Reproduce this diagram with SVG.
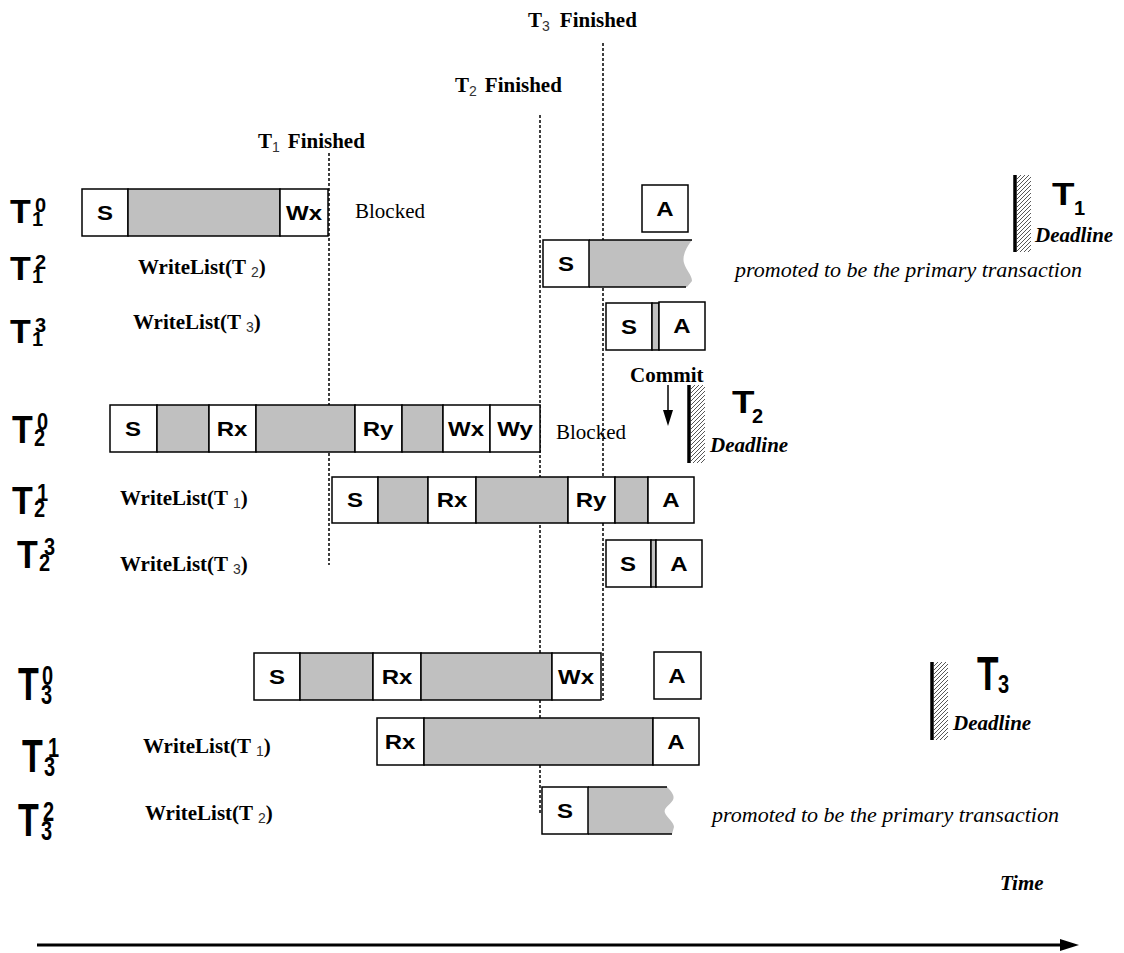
<svg xmlns="http://www.w3.org/2000/svg" width="1124" height="953" viewBox="0 0 1124 953">
<defs>
<style>
.w{fill:#fff;stroke:#000;stroke-width:1.5}
.g{fill:#c0c0c0;stroke:#000;stroke-width:1.5}
.gf{fill:#c0c0c0;stroke:none}
.ln{fill:none;stroke:#000;stroke-width:1.5}
.bx{font-family:"Liberation Sans",Arial,sans-serif;font-weight:bold;font-size:20px;text-anchor:middle}
.rl{font-family:"Liberation Sans",Arial,sans-serif;font-weight:bold}
.tm{font-family:"Liberation Serif","Times New Roman",serif;font-size:21px}
.tb{font-family:"Liberation Serif","Times New Roman",serif;font-size:21px;font-weight:bold}
.ti{font-family:"Liberation Serif","Times New Roman",serif;font-size:22px;font-style:italic}
.tbi{font-family:"Liberation Serif","Times New Roman",serif;font-size:21px;font-style:italic;font-weight:bold}
.sub{font-family:"Liberation Sans",Arial,sans-serif;font-size:14px;font-weight:normal;font-style:normal;fill:#333}
.dot{stroke:#000;stroke-width:1.5;stroke-dasharray:3,2;fill:none}
.dl{stroke:#000;stroke-width:3.5}
.ht{fill:url(#hatch)}
</style>
<pattern id="hatch" width="4" height="4" patternUnits="userSpaceOnUse"><path d="M-1,1 L1,-1 M0,4 L4,0 M3,5 L5,3" stroke="#444" stroke-width="0.9"/></pattern>
</defs>
<rect width="1124" height="953" fill="#fff"/>

<g id="connectors">
<line class="dot" x1="329" y1="153" x2="329" y2="565"/>
<line class="dot" x1="540" y1="115" x2="540" y2="815"/>
<line class="dot" x1="603" y1="43" x2="603" y2="700"/>
<line x1="668" y1="385" x2="668" y2="412" stroke="#000" stroke-width="1.5"/>
<path d="M663,410 L673,410 L668,426 Z" fill="#000"/>
<line x1="37" y1="945" x2="1064" y2="945" stroke="#000" stroke-width="3"/>
<path d="M1060,939 L1079,945 L1060,951 Z" fill="#000"/>
</g>

<g id="top-labels">
<text class="tb" x="528" y="27">T<tspan class="sub" dy="4">3</tspan><tspan dx="10" dy="-4">Finished</tspan></text>
<text class="tb" x="455" y="92">T<tspan class="sub" dy="4">2</tspan><tspan dx="8" dy="-4">Finished</tspan></text>
<text class="tb" x="258" y="148">T<tspan class="sub" dy="4">1</tspan><tspan dx="8" dy="-4">Finished</tspan></text>
</g>

<g id="row-labels">
<g transform="translate(10,223)"><text class="rl" font-size="34">T</text><text class="rl" font-size="20" x="25" y="-11">0</text><text class="rl" font-size="20" x="22" y="3">1</text></g>
<g transform="translate(10,280)"><text class="rl" font-size="34">T</text><text class="rl" font-size="20" x="25" y="-11">2</text><text class="rl" font-size="20" x="22" y="3">1</text></g>
<g transform="translate(10,343)"><text class="rl" font-size="34">T</text><text class="rl" font-size="20" x="25" y="-11">3</text><text class="rl" font-size="20" x="22" y="3">1</text></g>
<g transform="translate(12,443) scale(1,1.15)"><text class="rl" font-size="34">T</text><text class="rl" font-size="20" x="25" y="-11">0</text><text class="rl" font-size="20" x="22" y="3">2</text></g>
<g transform="translate(12,514) scale(1,1.15)"><text class="rl" font-size="34">T</text><text class="rl" font-size="20" x="25" y="-11">1</text><text class="rl" font-size="20" x="22" y="3">2</text></g>
<g transform="translate(17,568) scale(1,1.15)"><text class="rl" font-size="34">T</text><text class="rl" font-size="20" x="27" y="-11">3</text><text class="rl" font-size="20" x="22" y="3">2</text></g>
<g transform="translate(18,700) scale(1,1.35)"><text class="rl" font-size="34">T</text><text class="rl" font-size="20" x="24" y="-11">0</text><text class="rl" font-size="20" x="23" y="3">3</text></g>
<g transform="translate(22,772) scale(1,1.35)"><text class="rl" font-size="34">T</text><text class="rl" font-size="20" x="26" y="-11">1</text><text class="rl" font-size="20" x="22" y="3">3</text></g>
<g transform="translate(18,836) scale(1,1.35)"><text class="rl" font-size="34">T</text><text class="rl" font-size="20" x="25" y="-11">2</text><text class="rl" font-size="20" x="23" y="3">3</text></g>
</g>

<g id="writelists">
<text class="tb" x="138" y="274">WriteList(T <tspan class="sub" dy="3">2</tspan><tspan dy="-3">)</tspan></text>
<text class="tb" x="133" y="329">WriteList(T <tspan class="sub" dy="3">3</tspan><tspan dy="-3">)</tspan></text>
<text class="tb" x="120" y="505">WriteList(T <tspan class="sub" dy="3">1</tspan><tspan dy="-3">)</tspan></text>
<text class="tb" x="120" y="571">WriteList(T <tspan class="sub" dy="3">3</tspan><tspan dy="-3">)</tspan></text>
<text class="tb" x="143" y="753">WriteList(T <tspan class="sub" dy="3">1</tspan><tspan dy="-3">)</tspan></text>
<text class="tb" x="145" y="820">WriteList(T <tspan class="sub" dy="3">2</tspan><tspan dy="-3">)</tspan></text>
</g>

<g id="T1-0">
<rect class="w" x="82" y="189" width="46" height="47"/>
<rect class="g" x="128" y="189" width="152" height="47"/>
<rect class="w" x="280" y="189" width="48" height="47"/>
<text class="bx" transform="translate(105,220) scale(1.2,1)">S</text>
<text class="bx" transform="translate(304,220) scale(1.2,1)">Wx</text>
<text class="tm" x="355" y="218">Blocked</text>
</g>
<g id="T1-A">
<rect class="w" x="642" y="185" width="46" height="47"/>
<text class="bx" transform="translate(665,216) scale(1.2,1)">A</text>
</g>
<g id="T1-2">
<path class="gf" d="M589,240 H692 C686,248 682,256 684,263 C686,270 692,275 692,281 L687,287 H589 Z"/>
<path class="ln" d="M589,240 H692 M589,287 H686"/>
<rect class="w" x="543" y="240" width="46" height="47"/>
<text class="bx" transform="translate(566,271) scale(1.2,1)">S</text>
<text class="ti" x="735" y="277">promoted to be the primary transaction</text>
</g>
<g id="T1-3">
<rect class="w" x="606" y="303" width="46" height="47"/>
<rect class="g" x="652" y="303" width="7" height="47"/>
<rect class="w" x="659" y="302" width="46" height="48" stroke-width="2"/>
<text class="bx" transform="translate(629,334) scale(1.2,1)">S</text>
<text class="bx" transform="translate(682,333) scale(1.2,1)">A</text>
</g>

<g id="commit">
<text class="tb" x="630" y="382">Commit</text>
</g>

<g id="T2-0">
<rect class="w" x="110" y="405" width="47" height="47"/>
<rect class="g" x="157" y="405" width="52" height="47"/>
<rect class="w" x="209" y="405" width="47" height="47"/>
<rect class="g" x="256" y="405" width="99" height="47"/>
<rect class="w" x="355" y="405" width="47" height="47"/>
<rect class="g" x="402" y="405" width="41" height="47"/>
<rect class="w" x="443" y="405" width="47" height="47"/>
<rect class="w" x="490" y="405" width="50" height="47"/>
<text class="bx" transform="translate(133,436) scale(1.2,1)">S</text>
<text class="bx" transform="translate(232,436) scale(1.2,1)">Rx</text>
<text class="bx" transform="translate(378,436) scale(1.2,1)">Ry</text>
<text class="bx" transform="translate(466,436) scale(1.2,1)">Wx</text>
<text class="bx" transform="translate(515,436) scale(1.2,1)">Wy</text>
<text class="tm" x="556" y="439">Blocked</text>
</g>
<g id="T2-1">
<rect class="w" x="332" y="477" width="46" height="46"/>
<rect class="g" x="378" y="477" width="50" height="46"/>
<rect class="w" x="428" y="477" width="48" height="46"/>
<rect class="g" x="476" y="477" width="92" height="46"/>
<rect class="w" x="568" y="477" width="47" height="46"/>
<rect class="g" x="615" y="477" width="33" height="46"/>
<rect class="w" x="648" y="477" width="46" height="46"/>
<text class="bx" transform="translate(355,507) scale(1.2,1)">S</text>
<text class="bx" transform="translate(452,507) scale(1.2,1)">Rx</text>
<text class="bx" transform="translate(591,507) scale(1.2,1)">Ry</text>
<text class="bx" transform="translate(671,507) scale(1.2,1)">A</text>
</g>
<g id="T2-3">
<rect class="w" x="606" y="540" width="45" height="47"/>
<rect class="g" x="651" y="540" width="5" height="47"/>
<rect class="w" x="656" y="540" width="46" height="47"/>
<text class="bx" transform="translate(628,571) scale(1.2,1)">S</text>
<text class="bx" transform="translate(679,571) scale(1.2,1)">A</text>
</g>

<g id="T3-0">
<rect class="w" x="254" y="653" width="46" height="47"/>
<rect class="g" x="300" y="653" width="73" height="47"/>
<rect class="w" x="373" y="653" width="48" height="47"/>
<rect class="g" x="421" y="653" width="131" height="47"/>
<rect class="w" x="552" y="653" width="49" height="47"/>
<text class="bx" transform="translate(277,684) scale(1.2,1)">S</text>
<text class="bx" transform="translate(397,684) scale(1.2,1)">Rx</text>
<text class="bx" transform="translate(576,684) scale(1.2,1)">Wx</text>
</g>
<g id="T3-A">
<rect class="w" x="654" y="652" width="47" height="47"/>
<text class="bx" transform="translate(677,683) scale(1.2,1)">A</text>
</g>
<g id="T3-1">
<rect class="w" x="377" y="718" width="47" height="47"/>
<rect class="g" x="424" y="718" width="229" height="47"/>
<rect class="w" x="653" y="718" width="46" height="47"/>
<text class="bx" transform="translate(400,749) scale(1.2,1)">Rx</text>
<text class="bx" transform="translate(676,749) scale(1.2,1)">A</text>
</g>
<g id="T3-2">
<path class="gf" d="M588,787 H667 C672,792 675,796 673,800 C670,805 663,808 665,813 C667,818 674,822 674,827 L672,834 H588 Z"/>
<path class="ln" d="M588,787 H667 M588,834 H672"/>
<rect class="w" x="542" y="787" width="46" height="47"/>
<text class="bx" transform="translate(565,818) scale(1.2,1)">S</text>
<text class="ti" x="712" y="822">promoted to be the primary transaction</text>
</g>

<g id="deadline-T1">
<rect class="ht" x="1017" y="175" width="14" height="77"/>
<line class="dl" x1="1015" y1="175" x2="1015" y2="252"/>
<text class="rl" font-size="32" transform="translate(1052,205) scale(1.15,1)">T</text>
<text class="rl" font-size="20" x="1074" y="215">1</text>
<text class="tbi" x="1035" y="242">Deadline</text>
</g>
<g id="deadline-T2">
<rect class="ht" x="691" y="385" width="14" height="78"/>
<line class="dl" x1="689" y1="385" x2="689" y2="463"/>
<text class="rl" font-size="32" transform="translate(732,413) scale(1.15,1)">T</text>
<text class="rl" font-size="20" x="752" y="423">2</text>
<text class="tbi" x="710" y="452">Deadline</text>
</g>
<g id="deadline-T3">
<rect class="ht" x="934" y="662" width="14" height="78"/>
<line class="dl" x1="932" y1="662" x2="932" y2="740"/>
<text class="rl" font-size="32" transform="translate(977,690) scale(1.1,1.5)">T</text>
<text class="rl" font-size="20" transform="translate(998,693) scale(1,1.25)">3</text>
<text class="tbi" x="953" y="730">Deadline</text>
</g>

<g id="time-label">
<text class="tbi" x="1000" y="890">Time</text>
</g>
</svg>
